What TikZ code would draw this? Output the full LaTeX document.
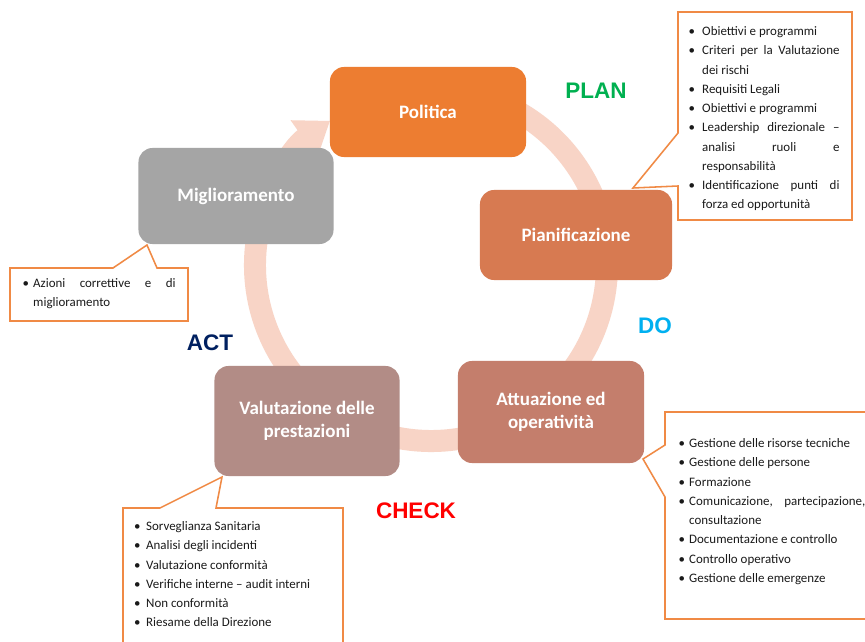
\documentclass[tikz,border=0pt]{standalone}
\usepackage{fontspec}
\setmainfont{Carlito}
\newfontfamily\pdcafont{Liberation Sans}
\usepackage{enumitem}
\usepackage{tikz}
\usetikzlibrary{arrows.meta}
\definecolor{politicaor}{HTML}{ED7D31}
\definecolor{pianifor}{HTML}{D77A51}
\definecolor{attuazbr}{HTML}{C47E6C}
\definecolor{valutazbr}{HTML}{B28C86}
\definecolor{migliorgr}{HTML}{A5A5A5}
\definecolor{ringpink}{HTML}{F8D4C6}
\definecolor{calloutor}{HTML}{F08A45}
\definecolor{notetext}{HTML}{1A1A1A}
\definecolor{plangreen}{HTML}{00B050}
\definecolor{doblue}{HTML}{00B0F0}
\definecolor{actnavy}{HTML}{002060}
\definecolor{checkred}{HTML}{FF0000}
\hyphenpenalty=10000
\exhyphenpenalty=10000
\tolerance=10000
\setlist[itemize]{label=\textbullet, itemsep=0pt, topsep=0pt, parsep=0pt, partopsep=0pt}
\tikzset{
  phase/.style={
    rounded corners=10pt,
    text=white,
    font=\fontsize{13.5}{16}\selectfont\bfseries,
    align=center,
    inner sep=2pt
  },
  cycle ring/.style={
    draw=ringpink,
    line width=0.55cm,
    -{Triangle[width=1.1cm, length=0.8cm]}
  },
  callout/.style={
    draw=calloutor,
    line width=1.1pt,
    fill=white,
    line join=miter
  },
  note/.style={
    anchor=north west,
    inner sep=0pt,
    align=justify,
    text=notetext,
    font=\fontsize{9.2}{13.7}\selectfont
  },
  pdca/.style={
    font=\pdcafont\fontsize{16}{18}\selectfont\bfseries
  }
}

\begin{document}
\begin{tikzpicture}[x=0.025cm, y=-0.025cm]
  \clip (0,0) rectangle (865,642);
  \fill[white] (0,0) rectangle (865,642);

  % ring
  \coordinate (hub) at (431,265);
  \draw[cycle ring] (hub) ++(-80:176) arc[start angle=-80, end angle=235, radius=176];

  % phases
  \node[phase, fill=politicaor, minimum width=4.9cm, minimum height=2.25cm] (politica) at (428,112) {Politica};
  \node[phase, fill=pianifor, minimum width=4.8cm, minimum height=2.25cm] (pianif) at (576,235) {Pianificazione};
  \node[phase, fill=attuazbr, minimum width=4.65cm, minimum height=2.55cm] (attuaz) at (551,412) {Attuazione ed\\operatività};
  \node[phase, fill=valutazbr, minimum width=4.625cm, minimum height=2.75cm] (valutaz) at (307,421) {Valutazione delle\\prestazioni};
  \node[phase, fill=migliorgr, minimum width=4.875cm, minimum height=2.4cm] (miglior) at (236,196) {Miglioramento};

  \node[pdca, text=plangreen] (plan) at (596,91) {PLAN};
  \node[pdca, text=doblue] (do) at (655,326) {DO};
  \node[pdca, text=actnavy] (act) at (210,343) {ACT};
  \node[pdca, text=checkred] (check) at (416,511) {CHECK};

  % callouts
  \draw[callout] (678,12) -- (852,12) -- (852,220) -- (678,220) -- (678,186) -- (633,188) -- (678,133) -- cycle;
  \node[note, text width=3.78cm] (pianifnote) at (688,16) {%
    \begin{itemize}[leftmargin=9.9pt, labelsep=5pt]
      \item Obiettivi e programmi
      \item Criteri per la Valutazione \linebreak dei rischi
      \item Requisiti Legali
      \item Obiettivi e programmi
      \item Leadership direzionale -- \linebreak analisi ruoli e \linebreak responsabilità
      \item Identificazione punti di \linebreak forza ed opportunità
    \end{itemize}};

  \draw[callout] (10,268) -- (113,268) -- (147,245) -- (157,268) -- (188,268) -- (188,321) -- (10,321) -- cycle;
  \node[note, text width=3.88cm] (migliornote) at (20,268) {%
    \begin{itemize}[leftmargin=9.2pt, labelsep=3pt]
      \item Azioni correttive e di \linebreak miglioramento
    \end{itemize}};

  \draw[callout] (665,412) -- (880,412) -- (880,619) -- (665,619) -- (665,497) -- (643,459) -- (665,445) -- cycle;
  \node[note, text width=4.75cm] (attuaznote) at (675,428) {%
    \begin{itemize}[leftmargin=9.9pt, labelsep=3pt]
      \item Gestione delle risorse tecniche
      \item Gestione delle persone
      \item Formazione
      \item Comunicazione, partecipazione, \linebreak consultazione
      \item Documentazione e controllo
      \item Controllo operativo
      \item Gestione delle emergenze
    \end{itemize}};

  \draw[callout] (123,508) -- (160,508) -- (222,477) -- (216,508) -- (343,508) -- (343,660) -- (123,660) -- cycle;
  \node[note, text width=5cm] (valutaznote) at (130,511) {%
    \begin{itemize}[leftmargin=11.3pt, labelsep=4pt]
      \item Sorveglianza Sanitaria
      \item Analisi degli incidenti
      \item Valutazione conformità
      \item Verifiche interne -- audit interni
      \item Non conformità
      \item Riesame della Direzione
    \end{itemize}};
\end{tikzpicture}
\end{document}
